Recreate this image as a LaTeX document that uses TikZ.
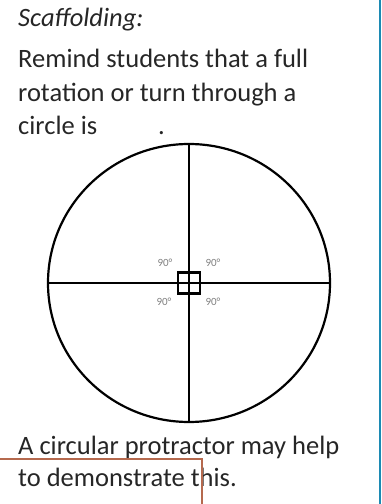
\documentclass[tikz,border=0pt]{standalone}
\usepackage{fontspec}
\setmainfont{Carlito}
\definecolor{textgray}{HTML}{262626}
\definecolor{labelgray}{HTML}{808080}
\definecolor{rulebrown}{HTML}{B5694E}
\definecolor{ruleblue}{HTML}{1C8AB3}
\tikzset{
  bodytext/.style={anchor=base west, inner sep=0pt, text=textgray, font=\fontsize{26.5}{30}\selectfont},
  anglelabel/.style={inner sep=0pt, text=labelgray, font=\fontsize{11}{12}\selectfont},
  figline/.style={line width=2.2pt, black}
}
\begin{document}
\begin{tikzpicture}[x=1pt,y=1pt]
          \useasboundingbox (0,0) rectangle (381,504);

          % Text above the figure
          \node[bodytext] (title) at (18,477) {\itshape Scaffolding:};
          \node[bodytext] (lineA) at (18,436) {Remind students that a full};
          \node[bodytext] (lineB) at (18,402) {rotation or turn through a};
          \node[bodytext] (lineC) at (18,369) {circle is};
          \node[bodytext] (dot) at (158,369) {.};

          % Circle split into four right angles
          \coordinate (centre) at (189,221);
          \draw[figline] (centre) ellipse [x radius=141, y radius=139];
          \draw[figline] (48,221) -- (330,221);
          \draw[figline] (189,359) -- (189,81);
          \draw[figline] (178,210.5) rectangle (200,231.5);
          \node[anglelabel] (ql) at (165,241) {90°};
          \node[anglelabel] (qr) at (213,241) {90°};
          \node[anglelabel] (pl) at (164,202) {90°};
          \node[anglelabel] (pr) at (213,202) {90°};

          % Text below the figure
          \node[bodytext] (lineD) at (18,49) {A circular protractor may help};
          \node[bodytext] (lineE) at (18,17) {to demonstrate this.};

          % Frame lines
          \draw[rulebrown, line width=1.5pt] (0,45) -- (202,45) -- (202,0);
          \draw[ruleblue, line width=1.5pt] (380,504) -- (380,0);
        \end{tikzpicture}
\end{document}
